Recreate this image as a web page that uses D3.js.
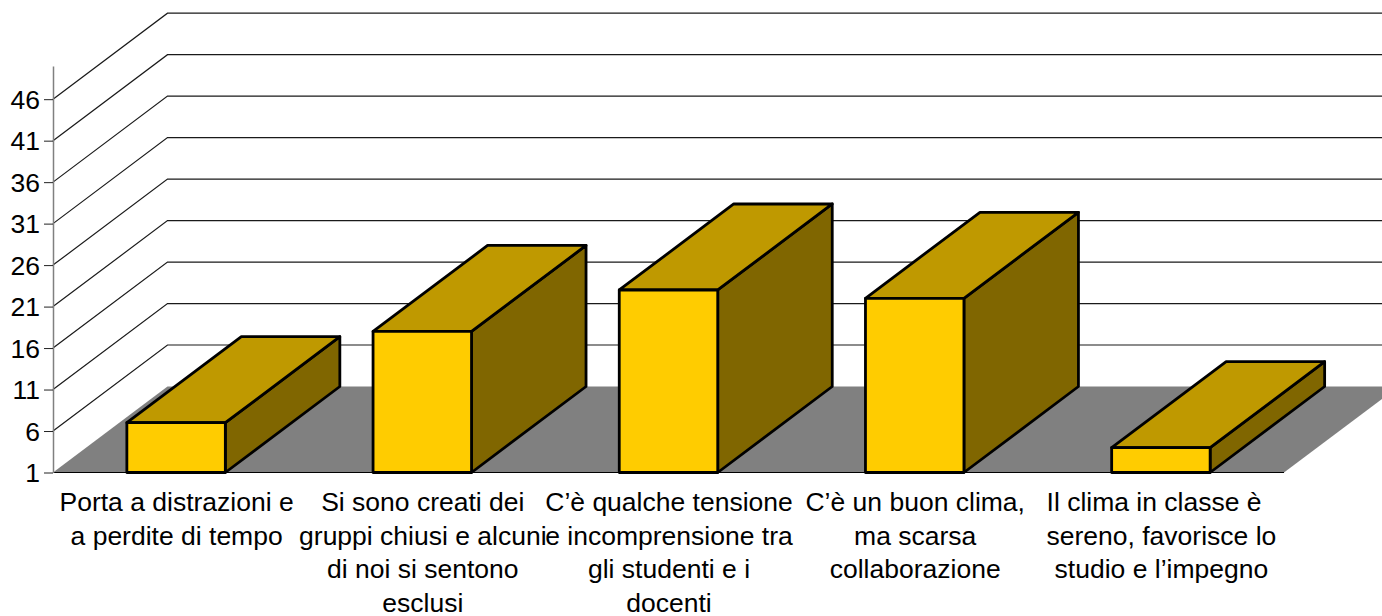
<!DOCTYPE html>
<html><head><meta charset="utf-8"><style>html,body{margin:0;padding:0;background:#fff}svg{display:block}text{white-space:pre}</style>
<script src="https://cdn.jsdelivr.net/npm/d3@7"></script></head><body><svg id="c" width="1382" height="616"></svg>
<script>
const categories=[["Porta a distrazioni e","a perdite di tempo"],["Si sono creati dei","gruppi chiusi e alcuni","di noi si sentono","esclusi"],["C’è qualche tensione","e incomprensione tra","gli studenti e i","docenti"],["C’è un buon clima,","ma scarsa","collaborazione"],["Il clima in classe è  ","sereno, favorisce lo","studio e l’impegno"]];
const values=[7,18,23,22,4];
const tickValues=[1,6,11,16,21,26,31,36,41,46];
const font="'Liberation Sans',Arial,sans-serif";
const svg=d3.select("#c");
const x0=53,x1=1284,yBase=472.5,yTop=66;
const dx=114.5,dy=-86;
const y=d3.scaleLinear().domain([1,50]).range([yBase,yTop]);
const x=d3.scaleBand().domain(d3.range(categories.length)).range([x0,x1]).paddingInner(0.6).paddingOuter(0.3);
const path=p=>"M"+p.map(d=>d.join(",")).join("L")+"Z";

svg.append("path").attr("d",path([[x0,yBase],[x0+dx,yBase+dy],[x1+dx,yBase+dy],[x1,yBase]])).attr("fill","#808080");
svg.append("g").selectAll("path").data(tickValues.slice(1)).join("path")
 .attr("d",v=>`M${x0},${y(v)}L${x0+dx},${y(v)+dy}L${x1+dx},${y(v)+dy}`)
 .attr("fill","none").attr("stroke","#1a1a1a").attr("stroke-width",1.2);
svg.append("line").attr("x1",x0).attr("x2",x1).attr("y1",yBase).attr("y2",yBase).attr("stroke","#000").attr("stroke-width",1);
const ax=svg.append("g").attr("transform",`translate(${x0},0)`).call(d3.axisLeft(y).tickValues(tickValues).tickSizeInner(9).tickSizeOuter(0).tickPadding(4));
ax.select(".domain").attr("stroke","#808080").attr("stroke-width",1.5);
ax.selectAll(".tick line").attr("stroke","#222").attr("stroke-width",1);
ax.selectAll("text").attr("font-family",font).attr("font-size",26.5).attr("fill","#000").attr("dy","0.35em");
const bars=svg.append("g").selectAll("g").data(values).join("g")
 .attr("stroke","#000").attr("stroke-width",2.8).attr("stroke-linejoin","round");
const bw=x.bandwidth();
bars.append("path").attr("fill","#806600").attr("d",(v,i)=>{const r=x(i)+bw;return path([[r,yBase],[r+dx,yBase+dy],[r+dx,y(v)+dy],[r,y(v)]]);});
bars.append("path").attr("fill","#BF9900").attr("d",(v,i)=>{const l=x(i),r=l+bw;return path([[l,y(v)],[l+dx,y(v)+dy],[r+dx,y(v)+dy],[r,y(v)]]);});
bars.append("path").attr("fill","#FFCC00").attr("d",(v,i)=>{const l=x(i),r=l+bw;return path([[l,yBase],[l,y(v)],[r,y(v)],[r,yBase]]);});
const lab=svg.append("g").selectAll("text").data(categories).join("text")
 .attr("text-anchor","middle").attr("font-family",font).attr("font-size",26.5).attr("fill","#000")
 .attr("transform",(c,i)=>`translate(${x(i)+bw/2+0.5},0)`);
lab.selectAll("tspan").data(d=>d).join("tspan").attr("x",0).attr("y",(d,i)=>511.3+i*33.4).text(d=>d);
</script></body></html>
